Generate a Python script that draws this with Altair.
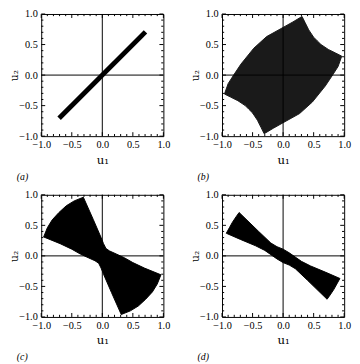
import altair as alt
import pandas as pd

# ---- axis ticks ----
MAJOR_TICKS = [-1.0, -0.5, 0.0, 0.5, 1.0]
MINOR_TICKS = [-0.9, -0.8, -0.7, -0.6, -0.4, -0.3, -0.2, -0.1,
               0.1, 0.2, 0.3, 0.4, 0.6, 0.7, 0.8, 0.9]
MAJOR_LEN = 0.065
MINOR_LEN = 0.035

PANEL_LABELS = ["(a)", "(b)", "(c)", "(d)"]

# ---- panel (a): thin segment ----
A_X = [-0.707, 0.707]
A_Y = [-0.707, 0.707]

# ---- panel (b): curved quadrilateral (outline) ----
B_X = [-0.96, -0.90, -0.81, -0.69, -0.48, -0.27, 0.00, 0.16, 0.31,
       0.36, 0.42, 0.50, 0.56, 0.62, 0.74, 0.86, 0.96,
       0.90, 0.81, 0.69, 0.48, 0.27, 0.00, -0.16, -0.31,
       -0.36, -0.42, -0.50, -0.56, -0.62, -0.74, -0.86]
B_Y = [-0.31, -0.14, 0.00, 0.18, 0.44, 0.63, 0.78, 0.87, 0.96,
       0.86, 0.74, 0.62, 0.56, 0.50, 0.42, 0.36, 0.31,
       0.14, 0.00, -0.18, -0.44, -0.63, -0.78, -0.87, -0.96,
       -0.86, -0.74, -0.62, -0.56, -0.50, -0.42, -0.36]

# ---- panel (c): wide bow-tie (outline) ----
C_X = [-0.31, -0.46, -0.59, -0.71, -0.82, -0.90, -0.96,
       -0.69, -0.50, -0.36, -0.23, -0.12, -0.06, -0.02, 0.02, 0.15, 0.31,
       0.46, 0.59, 0.71, 0.82, 0.90, 0.96,
       0.69, 0.50, 0.36, 0.23, 0.12, 0.06, 0.02, -0.02, -0.15]
C_Y = [0.96, 0.90, 0.82, 0.71, 0.59, 0.46, 0.31,
       0.20, 0.11, 0.03, -0.03, -0.08, -0.12, -0.20, -0.30, -0.60, -0.96,
       -0.90, -0.82, -0.71, -0.59, -0.46, -0.31,
       -0.20, -0.11, -0.03, 0.03, 0.08, 0.12, 0.20, 0.30, 0.60]

# ---- panel (d): narrow bow-tie (outline) ----
D_X = [-0.72, -0.77, -0.83, -0.88, -0.93,
       -0.70, -0.45, -0.30, -0.20, -0.10, 0.00, 0.10, 0.20, 0.40, 0.72,
       0.77, 0.83, 0.88, 0.93,
       0.70, 0.45, 0.30, 0.20, 0.10, 0.00, -0.10, -0.20, -0.40]
D_Y = [0.71, 0.64, 0.55, 0.46, 0.37,
       0.27, 0.165, 0.09, 0.02, -0.05, -0.11, -0.15, -0.21, -0.40, -0.71,
       -0.64, -0.55, -0.46, -0.37,
       -0.27, -0.165, -0.09, -0.02, 0.05, 0.11, 0.15, 0.21, 0.40]

SERIF = "Liberation Serif"


def tick_frame():
    rows = []
    for vals, ln in ((MAJOR_TICKS, MAJOR_LEN), (MINOR_TICKS, MINOR_LEN)):
        for v in vals:
            rows.append(dict(x=v, y=-1.0, x2=v, y2=-1.0 + ln))
            rows.append(dict(x=v, y=1.0, x2=v, y2=1.0 - ln))
            rows.append(dict(x=-1.0, y=v, x2=-1.0 + ln, y2=v))
            rows.append(dict(x=1.0, y=v, x2=1.0 - ln, y2=v))
    return pd.DataFrame(rows)


AXES_LINES = pd.DataFrame(dict(x=[0.0, -1.0], y=[-1.0, 0.0], x2=[0.0, 1.0], y2=[1.0, 0.0]))

SCALE = alt.Scale(domain=[-1, 1], nice=False, zero=False)


def xenc():
    return alt.X("x:Q", scale=SCALE, axis=alt.Axis(
        values=MAJOR_TICKS, format=".1f", ticks=False, domain=False, grid=False,
        labelFlush=False, labelOverlap=False, labelPadding=4,
        title="u₁", titlePadding=4))


def yenc():
    return alt.Y("y:Q", scale=SCALE, axis=alt.Axis(
        values=MAJOR_TICKS, format=".1f", ticks=False, domain=False, grid=False,
        labelFlush=False, labelOverlap=False, labelPadding=4,
        title="u₂", titleX=-22, titleBaseline="bottom", titleFontSize=11))


def panel(shape_x, shape_y, label, kind, fill="black"):
    df = pd.DataFrame(dict(x=shape_x, y=shape_y, i=list(range(len(shape_x)))))
    if kind == "line":
        shape = alt.Chart(df).mark_line(stroke="black", strokeWidth=5, strokeCap="butt").encode(
            x=xenc(), y=yenc(), order=alt.Order("i:Q"))
    else:
        df = pd.concat([df, df.iloc[[0]].assign(i=len(shape_x))])
        shape = alt.Chart(df).mark_line(fill=fill, stroke=fill, strokeWidth=1).encode(
            x=xenc(), y=yenc(), order=alt.Order("i:Q"))
    axes = alt.Chart(AXES_LINES).mark_rule(color="black", strokeWidth=1).encode(
        x=xenc(), y=yenc(), x2="x2:Q", y2="y2:Q")
    ticks = alt.Chart(tick_frame()).mark_rule(color="black", strokeWidth=1).encode(
        x=xenc(), y=yenc(), x2="x2:Q", y2="y2:Q")
    return alt.layer(shape, axes, ticks).properties(
        width=125, height=125,
        title=alt.TitleParams(label, orient="bottom", anchor="start", dx=8, offset=7,
                              font=SERIF, fontSize=10, fontStyle="italic",
                              fontWeight="normal", color="black"))


pa = panel(A_X, A_Y, PANEL_LABELS[0], "line")
pb = panel(B_X, B_Y, PANEL_LABELS[1], "poly", fill="#1a1a1a")
pc = panel(C_X, C_Y, PANEL_LABELS[2], "poly")
pd_ = panel(D_X, D_Y, PANEL_LABELS[3], "poly")

chart = alt.concat(pa, pb, pc, pd_, columns=2, spacing=60, bounds="flush").properties(
    autosize=alt.AutoSizeParams(type="none"),
    padding={"left": 34, "top": 2, "right": 318, "bottom": 354},
).configure_view(stroke="black", strokeWidth=1).configure_axis(
    labelFont=SERIF, labelFontSize=10.5, labelColor="black",
    titleFont="DejaVu Serif", titleFontSize=12, titleFontWeight="normal", titleColor="black",
)

chart.save("out.html", embed_options={"renderer": "svg", "actions": False})
